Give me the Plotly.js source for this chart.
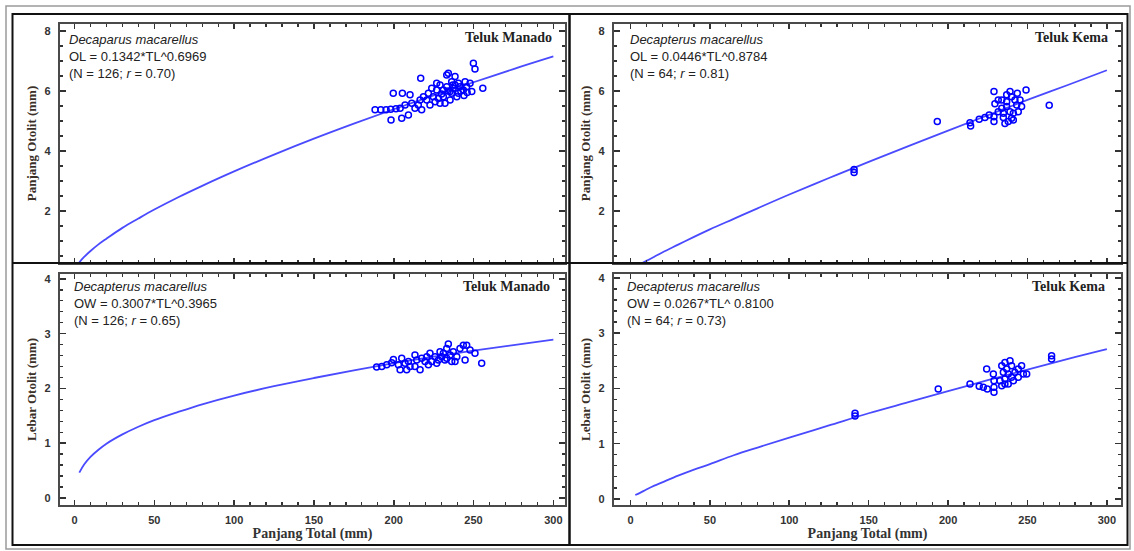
<!DOCTYPE html>
<html><head><meta charset="utf-8">
<script src="https://cdn.plot.ly/plotly-3.0.1.min.js"></script>
<style>html,body{margin:0;padding:0;background:#fff}#chart{width:1134px;height:551px}</style>
</head><body><div id="chart"></div>
<script>
// ---- fitted curves, values ----
const curveTL = [3,6,10,15,20,30,40,50,65,80,100,125,150,175,200,225,250,275,300];
const curveOL_Manado = [0.29,0.47,0.67,0.89,1.08,1.44,1.75,2.05,2.46,2.84,3.32,3.88,4.41,4.91,5.39,5.85,6.29,6.73,7.15];
const curveOL_Kema   = [0.12,0.22,0.34,0.48,0.62,0.88,1.14,1.39,1.74,2.09,2.55,3.10,3.64,4.16,4.68,5.19,5.70,6.19,6.69];
const curveOW_Manado = [0.46,0.61,0.75,0.88,0.99,1.16,1.30,1.42,1.57,1.71,1.87,2.04,2.19,2.33,2.46,2.58,2.69,2.79,2.89];
const curveOW_Kema   = [0.07,0.11,0.17,0.24,0.30,0.42,0.53,0.63,0.79,0.93,1.11,1.33,1.55,1.75,1.95,2.15,2.34,2.53,2.71];

// ---- observed points ----
const manadoOL_TL = [188.3,191.9,195.2,198.1,201.4,198.3,205.0,209.2,199.7,205.4,210.2,216.9,207.1,211.3,215.4,217.5,216.5,220.7,221.7,223.8,226.9,229.0,231.1,233.2,234.2,236.3,238.4,240.5,235.3,232.1,229.0,225.9,222.7,235.3,240.5,243.6,245.7,247.8,249.9,250.9,255.8,248.9,241.5,238.4,233.2,236.3,224.8,218.6,213.3,204.0,231.1,237.3,226.9,244.7,239.5,230.0,234.0,237.0,242.0,228.0,244.0,246.0];
const manadoOL_OL = [5.37,5.37,5.37,5.39,5.41,5.03,5.09,5.20,5.92,5.92,5.87,6.42,5.53,5.59,5.53,5.37,5.70,5.70,5.92,6.09,6.03,6.20,5.81,6.14,6.59,6.31,6.20,6.26,5.98,5.59,5.59,5.64,5.53,5.70,5.92,6.03,6.14,6.26,6.92,6.73,6.09,5.98,6.14,6.48,6.53,5.92,5.81,5.81,5.42,5.42,6.03,6.09,6.26,6.31,5.81,5.90,6.00,6.20,6.00,5.75,5.85,5.95];

const kemaOL_TL = [193.2,214.2,213.8,219.6,223.2,225.9,228.9,228.9,228.9,229.5,231.6,233.8,234.8,235.8,237.9,239.0,240.0,243.6,249.1,245.3,243.2,246.3,236.9,239.0,241.1,233.8,236.9,242.1,263.7,231.6,241.1,236.9,240.0,244.2,234.8,140.8,140.8];
const kemaOL_OL = [4.98,4.83,4.94,5.06,5.12,5.20,5.98,5.14,4.98,5.57,5.70,5.42,5.26,4.92,4.98,5.98,5.81,5.92,6.03,5.70,5.53,5.48,5.48,5.31,5.26,5.70,5.64,5.70,5.52,5.31,5.03,5.87,5.09,5.31,5.12,3.38,3.28];

const manadoOW_TL = [189.3,192.5,195.6,198.7,199.8,202.9,204.0,205.0,207.1,208.1,209.2,210.2,213.3,214.4,216.5,217.5,219.6,220.7,222.7,223.8,225.9,228.0,230.1,231.1,232.1,233.2,234.2,235.3,236.3,237.3,239.5,241.5,243.6,245.7,247.8,250.9,255.1,244.7,233.2,229.0,226.9,221.7,238.4,213.3];
const manadoOW_OW = [2.39,2.40,2.43,2.47,2.53,2.43,2.34,2.55,2.46,2.34,2.49,2.40,2.61,2.52,2.34,2.55,2.49,2.58,2.64,2.49,2.58,2.52,2.58,2.64,2.52,2.73,2.81,2.61,2.49,2.67,2.58,2.73,2.79,2.79,2.70,2.64,2.46,2.52,2.55,2.67,2.46,2.43,2.49,2.40];

const kemaOW_TL = [193.8,213.8,219.6,222.2,224.7,224.3,228.5,228.9,228.9,228.9,232.7,233.8,235.8,236.9,239.0,240.0,237.9,235.8,240.0,242.1,244.2,246.3,247.4,249.5,237.9,235.8,241.1,244.2,234.8,265.2,265.2,233.8,141.4,141.4];
const kemaOW_OW = [1.99,2.08,2.04,2.02,1.99,2.35,2.26,2.14,2.02,1.93,2.14,2.41,2.47,2.35,2.50,2.41,2.26,2.17,2.20,2.29,2.35,2.41,2.26,2.26,2.08,2.08,2.14,2.20,2.29,2.59,2.53,2.05,1.55,1.50];

// ---- text ----
const species = ["Decaparus macarellus","Decapterus macarellus","Decapterus macarellus","Decapterus macarellus"];
const equations = ["OL = 0.1342*TL^0.6969","OL = 0.0446*TL^0.8784","OW = 0.3007*TL^0.3965","OW = 0.0267*TL^ 0.8100"];
const stats = [["126","0.70"],["64","0.81"],["126","0.65"],["64","0.73"]];
const sites = ["Teluk Manado","Teluk Kema","Teluk Manado","Teluk Kema"];
const yTitles = ["Panjang Otolit (mm)","Panjang Otolit (mm)","Lebar Otolit (mm)","Lebar Otolit (mm)"];
const xTitle = "Panjang Total (mm)";

const W = 1134, H = 551;
const P = px => px / W, Q = py => 1 - py / H;

const lineColor = '#4a4aff', ptColor = '#0000ff';
const traces = [];
const sets = [
  [curveOL_Manado, manadoOL_TL, manadoOL_OL, 'x', 'y'],
  [curveOL_Kema, kemaOL_TL, kemaOL_OL, 'x2', 'y2'],
  [curveOW_Manado, manadoOW_TL, manadoOW_OW, 'x3', 'y3'],
  [curveOW_Kema, kemaOW_TL, kemaOW_OW, 'x4', 'y4']
];
sets.forEach(s => {
  traces.push({x: curveTL, y: s[0], xaxis: s[3], yaxis: s[4], mode: 'lines', type: 'scatter',
    line: {color: lineColor, width: 1.8, shape: 'spline'}, hoverinfo: 'skip'});
  traces.push({x: s[1], y: s[2], xaxis: s[3], yaxis: s[4], mode: 'markers', type: 'scatter',
    marker: {symbol: 'circle-open', size: 6, color: ptColor, line: {width: 1.5, color: ptColor}}});
});

const tickFont = {family: 'Liberation Sans, Arial, sans-serif', size: 11, weight: 'bold', color: '#333'};
function xAx(dom, range, showLabels) {
  return {domain: dom, range: range, dtick: 50, tick0: 0, ticks: 'inside', ticklen: 5, tickwidth: 1.6,
    tickcolor: '#333', showline: true, linecolor: '#4a4a4a', linewidth: 2.2, mirror: 'ticks',
    showgrid: false, zeroline: false, showticklabels: showLabels, tickfont: tickFont, ticklabelstandoff: 4,
    minor: {dtick: 10, ticks: 'inside', ticklen: 3, tickwidth: 1.3, tickcolor: '#333', showgrid: false},
    title: showLabels ? {text: xTitle, font: {family: 'Liberation Serif, Times New Roman, serif', size: 14, weight: 'bold', color: '#333'}, standoff: 3} : {text: ''}};
}
function yAx(dom, range, dt, mdt, title, anchor) {
  return {domain: dom, range: range, dtick: dt, tick0: 0, ticks: 'inside', ticklen: 6, tickwidth: 1.6,
    tickcolor: '#333', showline: true, linecolor: '#4a4a4a', linewidth: 2.2, mirror: 'ticks', anchor: anchor,
    showgrid: false, zeroline: false, tickfont: tickFont, ticklabelstandoff: 5,
    minor: {dtick: mdt, ticks: 'inside', ticklen: 3, tickwidth: 1.3, tickcolor: '#333', showgrid: false},
    title: {text: title, font: {family: 'Liberation Serif, Times New Roman, serif', size: 13, weight: 'bold', color: '#3a3028'}, standoff: 5}};
}

const xL = [P(60), P(565)], xR = [P(614), P(1121)];
const yT = [Q(263), Q(24)], yB = [Q(505), Q(274)];

const layout = {
  width: W, height: H, margin: {l: 0, r: 0, t: 0, b: 0}, showlegend: false,
  paper_bgcolor: '#fff', plot_bgcolor: '#fff',
  xaxis: Object.assign(xAx(xL, [-9.1, 307.3], false), {anchor: 'y'}),
  yaxis: yAx(yT, [0.27, 8.23], 2, 0.5, yTitles[0], 'x'),
  xaxis2: Object.assign(xAx(xR, [-10.4, 308.9], false), {anchor: 'y2'}),
  yaxis2: yAx(yT, [0.27, 8.23], 2, 0.5, yTitles[1], 'x2'),
  xaxis3: Object.assign(xAx(xL, [-9.1, 307.3], true), {anchor: 'y3'}),
  yaxis3: yAx(yB, [-0.13, 4.09], 1, 0.2, yTitles[2], 'x3'),
  xaxis4: Object.assign(xAx(xR, [-10.4, 308.9], true), {anchor: 'y4'}),
  yaxis4: yAx(yB, [-0.11, 4.07], 1, 0.2, yTitles[3], 'x4'),
  annotations: [],
  shapes: [
    {type: 'rect', xref: 'paper', yref: 'paper', x0: P(6), x1: P(1130), y0: Q(549), y1: Q(6), line: {color: '#9a9a9a', width: 1.5}},
    {type: 'rect', xref: 'paper', yref: 'paper', x0: P(12.5), x1: P(569.5), y0: Q(545), y1: Q(14), line: {color: '#111', width: 2}},
    {type: 'rect', xref: 'paper', yref: 'paper', x0: P(569.5), x1: P(1127.5), y0: Q(545), y1: Q(14), line: {color: '#111', width: 2}},
    {type: 'line', xref: 'paper', yref: 'paper', x0: P(12.5), x1: P(1127.5), y0: Q(263), y1: Q(263), line: {color: '#111', width: 2}}
  ]
};

const axN = ['', '2', '3', '4'];
const textX = [0.014, 0.028, 0.024, 0.022];
const textY = [0.975, 0.975, 0.985, 0.985];
const siteX = [0.978, 0.978, 0.974, 0.972];
const siteY = [0.942, 0.942, 0.945, 0.945];
for (let i = 0; i < 4; i++) {
  layout.annotations.push({xref: 'x' + axN[i] + ' domain', yref: 'y' + axN[i] + ' domain', x: textX[i], y: textY[i],
    xanchor: 'left', yanchor: 'top', align: 'left', showarrow: false,
    text: '<i>' + species[i] + '</i><br>' + equations[i] + '<br>(N = ' + stats[i][0] + '; <i>r</i> = ' + stats[i][1] + ')',
    font: {family: 'Liberation Sans, Arial, sans-serif', size: 13, color: '#222'}});
  layout.annotations.push({xref: 'x' + axN[i] + ' domain', yref: 'y' + axN[i] + ' domain', x: siteX[i], y: siteY[i],
    xanchor: 'right', yanchor: 'middle', showarrow: false, text: sites[i],
    font: {family: 'Liberation Serif, Times New Roman, serif', size: 14, weight: 'bold', color: '#222'}});
}

Plotly.newPlot('chart', traces, layout, {displayModeBar: false, staticPlot: true});
</script></body></html>
